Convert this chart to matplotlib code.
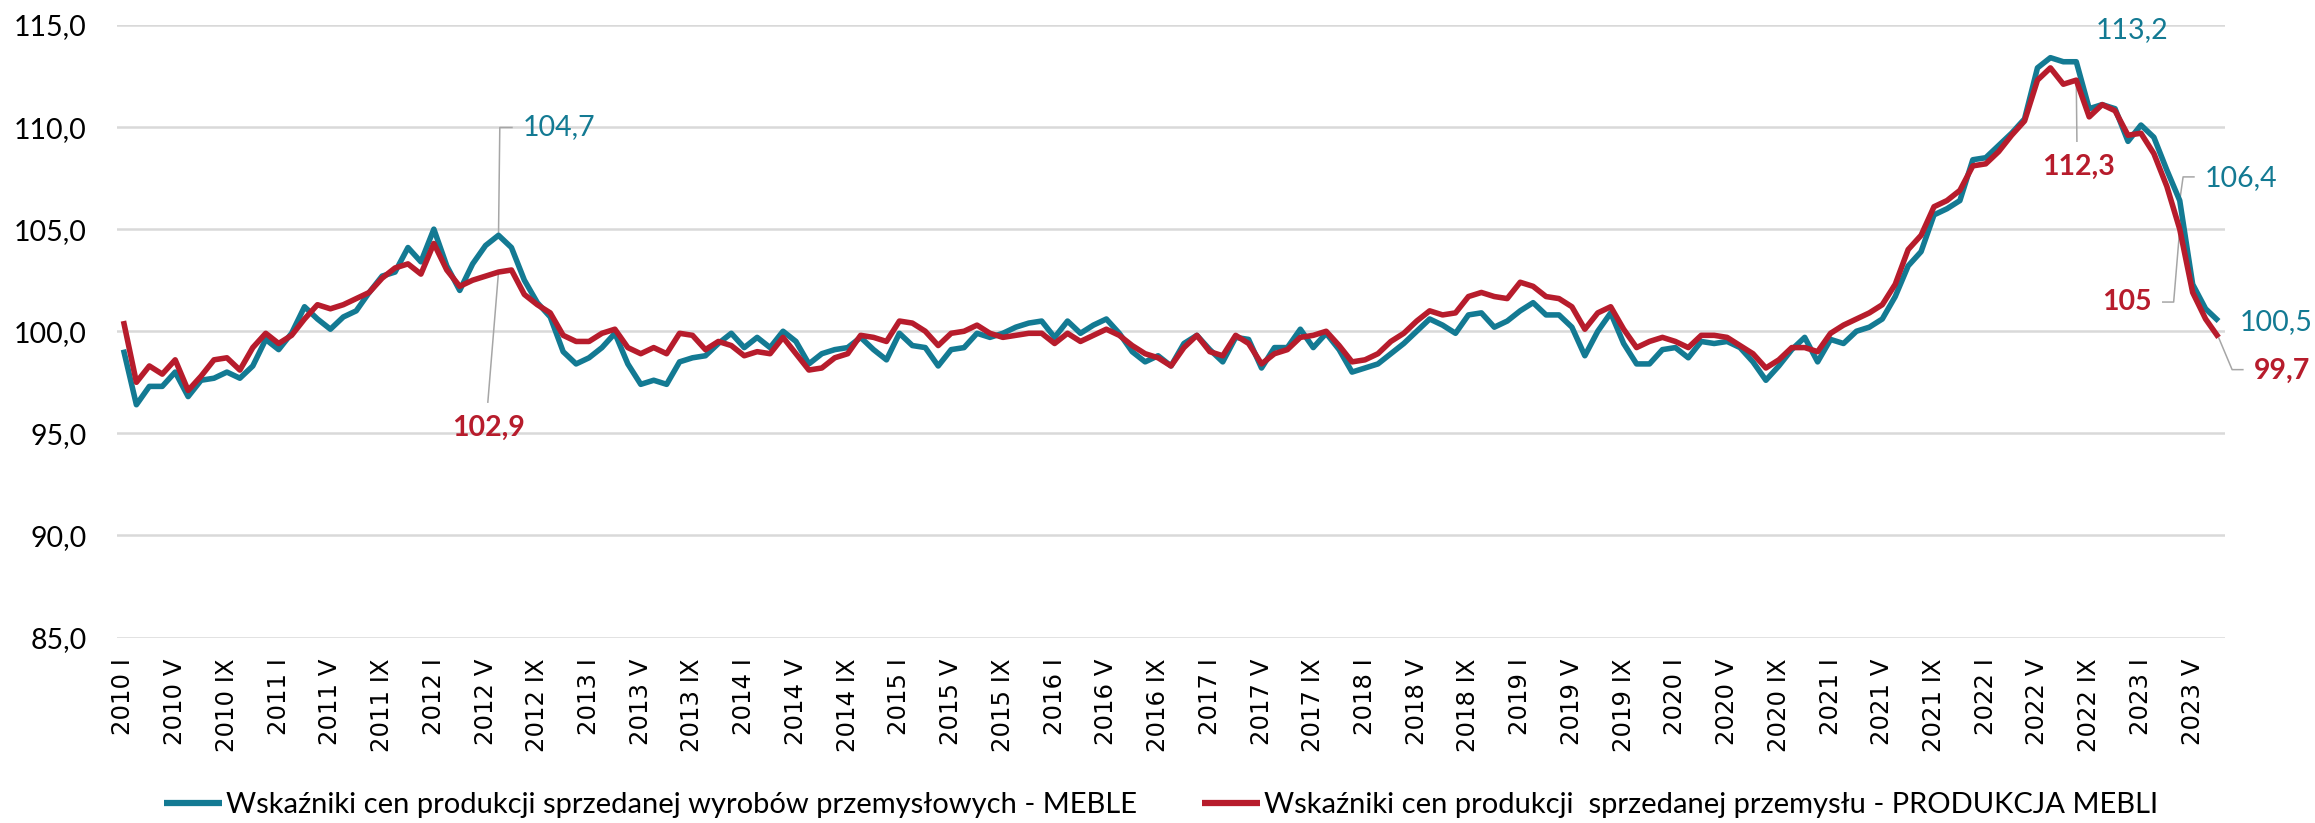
import matplotlib
matplotlib.use("Agg")
import matplotlib.pyplot as plt
import numpy as np

# ---------------- data ----------------
years = list(range(2010, 2024))
roman = ["I", "II", "III", "IV", "V", "VI", "VII", "VIII", "IX", "X", "XI", "XII"]
n_points = 163  # 2010 I .. 2023 VII
categories = [f"{years[i // 12]} {roman[i % 12]}" for i in range(n_points)]

meble = [
    99.1, 96.4, 97.3, 97.3, 98.0, 96.8, 97.6, 97.7, 98.0, 97.7, 98.3, 99.6,
    99.1, 99.9, 101.2, 100.6, 100.1, 100.7, 101.0, 101.9, 102.7, 102.9, 104.1, 103.4,
    105.0, 103.2, 102.0, 103.3, 104.2, 104.7, 104.1, 102.5, 101.4, 100.7, 99.0, 98.4,
    98.7, 99.2, 99.9, 98.4, 97.4, 97.6, 97.4, 98.5, 98.7, 98.8, 99.4, 99.9,
    99.2, 99.7, 99.2, 100.0, 99.5, 98.4, 98.9, 99.1, 99.2, 99.7, 99.1, 98.6,
    99.9, 99.3, 99.2, 98.3, 99.1, 99.2, 99.9, 99.7, 99.9, 100.2, 100.4, 100.5,
    99.7, 100.5, 99.9, 100.3, 100.6, 99.9, 99.0, 98.5, 98.8, 98.3, 99.4, 99.8,
    99.1, 98.5, 99.7, 99.6, 98.2, 99.2, 99.2, 100.1, 99.2, 99.9, 99.1, 98.0,
    98.2, 98.4, 98.9, 99.4, 100.0, 100.6, 100.3, 99.9, 100.8, 100.9, 100.2, 100.5,
    101.0, 101.4, 100.8, 100.8, 100.2, 98.8, 100.0, 100.9, 99.4, 98.4, 98.4, 99.1,
    99.2, 98.7, 99.5, 99.4, 99.5, 99.2, 98.5, 97.6, 98.3, 99.1, 99.7, 98.5,
    99.6, 99.4, 100.0, 100.2, 100.6, 101.7, 103.2, 103.9, 105.7, 106.0, 106.4, 108.4,
    108.5, 109.1, 109.7, 110.4, 112.9, 113.4, 113.2, 113.2, 110.9, 111.1, 110.9, 109.3,
    110.1, 109.5, 107.9, 106.4, 102.3, 101.1, 100.5,
]
produkcja = [
    100.5, 97.5, 98.3, 97.9, 98.6, 97.1, 97.8, 98.6, 98.7, 98.1, 99.2, 99.9,
    99.4, 99.8, 100.6, 101.3, 101.1, 101.3, 101.6, 101.9, 102.6, 103.1, 103.3, 102.8,
    104.3, 103.0, 102.2, 102.5, 102.7, 102.9, 103.0, 101.8, 101.3, 100.9, 99.8, 99.5,
    99.5, 99.9, 100.1, 99.2, 98.9, 99.2, 98.9, 99.9, 99.8, 99.1, 99.5, 99.3,
    98.8, 99.0, 98.9, 99.7, 98.9, 98.1, 98.2, 98.7, 98.9, 99.8, 99.7, 99.5,
    100.5, 100.4, 100.0, 99.3, 99.9, 100.0, 100.3, 99.9, 99.7, 99.8, 99.9, 99.9,
    99.4, 99.9, 99.5, 99.8, 100.1, 99.8, 99.3, 98.9, 98.7, 98.3, 99.2, 99.8,
    99.0, 98.8, 99.8, 99.4, 98.4, 98.9, 99.1, 99.7, 99.8, 100.0, 99.3, 98.5,
    98.6, 98.9, 99.5, 99.9, 100.5, 101.0, 100.8, 100.9, 101.7, 101.9, 101.7, 101.6,
    102.4, 102.2, 101.7, 101.6, 101.2, 100.1, 100.9, 101.2, 100.1, 99.2, 99.5, 99.7,
    99.5, 99.2, 99.8, 99.8, 99.7, 99.3, 98.9, 98.2, 98.6, 99.2, 99.2, 99.0,
    99.9, 100.3, 100.6, 100.9, 101.3, 102.3, 104.0, 104.7, 106.1, 106.4, 106.9, 108.1,
    108.2, 108.8, 109.6, 110.3, 112.3, 112.9, 112.1, 112.3, 110.5, 111.1, 110.8, 109.6,
    109.7, 108.7, 107.1, 105.0, 101.9, 100.6, 99.7,
]
assert len(meble) == n_points and len(produkcja) == n_points

series_names = [
    "Wskaźniki cen produkcji sprzedanej wyrobów przemysłowych - MEBLE",
    "Wskaźniki cen produkcji  sprzedanej przemysłu - PRODUKCJA MEBLI",
]

# ---------------- style ----------------
TEAL = "#137A93"
RED = "#B71C2C"
GRID = "#D9D9D9"
LEAD = "#A6A6A6"
FONT = "Lato"

fig = plt.figure(figsize=(23.15, 8.23), dpi=100)
ax = fig.add_axes([117 / 2315, 1 - 637.5 / 823, (2225 - 117) / 2315, (637.5 - 25) / 823])

x = np.arange(n_points)
l1, = ax.plot(x, meble, color=TEAL, lw=4.0, solid_joinstyle="round", solid_capstyle="butt", zorder=3)
l2, = ax.plot(x, produkcja, color=RED, lw=4.0, solid_joinstyle="round", solid_capstyle="butt", zorder=4)

ax.set_xlim(-0.5, n_points - 0.5)
ax.set_ylim(85, 115)
yt = np.arange(85, 116, 5)
ax.set_yticks(yt)
ax.set_yticklabels([f"{v:.1f}".replace(".", ",") for v in yt], fontsize=20.5, family=FONT)
ax.yaxis.grid(True, color=GRID, lw=1.8)
ax.set_axisbelow(True)
for s in ax.spines.values():
    s.set_visible(False)
ax.tick_params(axis="y", length=0, pad=22)

xt = list(range(0, n_points, 4))
ax.set_xticks(xt)
ax.set_xticklabels([categories[i] for i in xt], rotation=90, fontsize=17.6, family="DejaVu Sans")
ax.tick_params(axis="x", length=0, pad=15)

# ---------------- annotations ----------------
def lead(xs, ys):
    ax.plot(xs, ys, color=LEAD, lw=1.1, zorder=2, clip_on=False, solid_capstyle="butt")

afs = 20.5
# 104,7 / 102,9 (2012 VI)
lead([29, 29.1, 30.1], [meble[29], 109.98, 109.98])
ax.text(30.9, 109.98, "104,7", color=TEAL, fontsize=afs, family=FONT, ha="left", va="center")
lead([29, 28.17], [produkcja[29], 96.49])
ax.text(28.2, 95.25, "102,9", color=RED, fontsize=afs, family=FONT, fontweight="bold", ha="center", va="center")
# 113,2 / 112,3 (2022 VIII)
ax.text(155.3, 114.74, "113,2", color=TEAL, fontsize=afs, family=FONT, ha="center", va="center")
lead([151, 151.05], [produkcja[151], 109.27])
ax.text(151.16, 108.03, "112,3", color=RED, fontsize=afs, family=FONT, fontweight="bold", ha="center", va="center")
# 106,4 / 105 (2023 IV)
lead([159, 159.26, 160.16], [meble[159], 107.56, 107.56])
ax.text(160.9, 107.5, "106,4", color=TEAL, fontsize=afs, family=FONT, ha="left", va="center")
lead([159, 158.53, 157.63], [produkcja[159], 101.43, 101.43])
ax.text(156.86, 101.43, "105", color=RED, fontsize=afs, family=FONT, fontweight="bold", ha="right", va="center")
# 100,5 / 99,7 (2023 VII)
ax.text(163.6, 100.46, "100,5", color=TEAL, fontsize=afs, family=FONT, ha="left", va="center")
lead([162, 163.05, 163.94], [produkcja[162], 98.12, 98.12])
ax.text(164.7, 98.06, "99,7", color=RED, fontsize=afs, family=FONT, fontweight="bold", ha="left", va="center")

# ---------------- legend ----------------
leg = fig.legend([l1, l2], series_names, loc="center", bbox_to_anchor=(1161 / 2315, 1 - 805 / 823),
                 ncol=2, frameon=False, prop={"family": FONT, "size": 21},
                 handlelength=2.0, handletextpad=0.15, columnspacing=2.2, borderpad=0, borderaxespad=0)
for h in leg.get_lines():
    h.set_linewidth(4.5)

fig.savefig("out.png", dpi=100, facecolor="white")
